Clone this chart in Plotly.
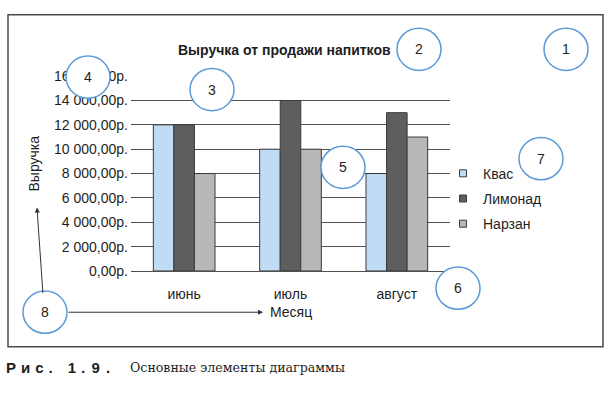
import plotly.graph_objects as go

W, H = 611, 397

months = ["июнь", "июль", "август"]
series_names = ["Квас", "Лимонад", "Нарзан"]
kvas = [12000, 10000, 8000]
limonad = [12000, 14000, 13000]
narzan = [8000, 10000, 11000]
tick_vals = [0, 2000, 4000, 6000, 8000, 10000, 12000, 14000, 16000]
tick_text = ["0,00р.", "2 000,00р.", "4 000,00р.", "6 000,00р.", "8 000,00р.",
             "10 000,00р.", "12 000,00р.", "14 000,00р.", "16 000,00р."]
title_text = "Выручка от продажи напитков"
y_title = "Выручка"
x_title = "Месяц"
# letter-spaced (разрядка) caption label "Рис. 1.9."
caption_bold = "Р\u2004и\u2004с\u2004.\u20031\u2004.\u2004\u200a9\u2004\u200a."
caption_rest = "Основные элементы диаграммы"
callout_labels = ["1", "2", "3", "4", "5", "6", "7", "8"]

colors = ["#bfdcf4", "#5e5e5e", "#b8b8b8"]
FONT = "Liberation Sans, Arial, sans-serif"
TXT = "#1e1e1e"


def px(x):
    return x / W


def py(y):
    return 1 - y / H


fig = go.Figure()
for name, vals, col in zip(series_names, [kvas, limonad, narzan], colors):
    fig.add_trace(go.Bar(x=months, y=vals, name=name, marker_color=col,
                         marker_line=dict(color="#3a3a3a", width=1),
                         showlegend=False))
for i, (name, col) in enumerate(zip(series_names, colors)):
    fig.add_trace(go.Scatter(x=[None], y=[None], mode="markers", name=name,
                             legendgroup=f"g{i}",
                             marker=dict(symbol="square", size=7, color=col,
                                         line=dict(color="#3a3a3a", width=1))))

shapes = [dict(type="rect", xref="paper", yref="paper",
               x0=px(8), x1=px(603), y0=py(7), y1=py(353),
               line=dict(color="#4a4a4a", width=1.5), layer="below")]

callout_pos = [(566, 43), (419, 43), (212, 85), (88, 72), (343, 166),
               (458, 292), (541, 157), (45, 317)]
R = 22
annotations = []
for lab, (cx, cy) in zip(callout_labels, callout_pos):
    shapes.append(dict(type="circle", xref="paper", yref="paper",
                       x0=px(cx - R), x1=px(cx + R), y0=py(cy + R), y1=py(cy - R),
                       fillcolor="white", line=dict(color="#5b9ad8", width=1.5),
                       layer="above"))
    annotations.append(dict(x=px(cx), y=py(cy), xref="paper", yref="paper",
                            xanchor="center", yanchor="middle",
                            text=lab, showarrow=False,
                            font=dict(family=FONT, size=14, color=TXT)))

# arrows from callout 8
annotations.append(dict(x=px(37), y=py(208), xref="paper", yref="paper",
                        ax=43 - 37, ay=295 - 208, text="", showarrow=True,
                        arrowhead=2, arrowsize=1, arrowwidth=1, arrowcolor="#333",
                        standoff=0, startstandoff=0))
annotations.append(dict(x=px(263), y=py(317), xref="paper", yref="paper",
                        ax=67 - 263, ay=0, text="", showarrow=True,
                        arrowhead=2, arrowsize=1, arrowwidth=1, arrowcolor="#333",
                        standoff=0, startstandoff=0))

annotations += [
    dict(x=px(284), y=py(44), xref="paper", yref="paper", text="<b>" + title_text + "</b>",
         xanchor="center", yanchor="middle",
         showarrow=False, font=dict(family=FONT, size=14, color=TXT)),
    dict(x=px(34), y=py(162), xref="paper", yref="paper", text=y_title, textangle=-90,
         xanchor="center", yanchor="middle",
         showarrow=False, font=dict(family=FONT, size=14, color=TXT)),
    dict(x=px(268), y=py(317), xref="paper", yref="paper", text=x_title,
         xanchor="left", yanchor="middle",
         showarrow=False, font=dict(family=FONT, size=14, color=TXT)),
    dict(x=px(4), y=py(375), xref="paper", yref="paper", text="<b>" + caption_bold + "</b>",
         xanchor="left", yanchor="middle", showarrow=False,
         font=dict(family=FONT, size=15, color=TXT)),
    dict(x=px(128), y=py(375), xref="paper", yref="paper", text=caption_rest,
         xanchor="left", yanchor="middle", showarrow=False,
         font=dict(family="DejaVu Serif, serif", size=12.6, color=TXT)),
]

fig.update_layout(
    width=W, height=H, autosize=False,
    margin=dict(l=0, r=0, t=0, b=0),
    paper_bgcolor="white", plot_bgcolor="rgba(0,0,0,0)",
    barmode="group", bargap=0.42, bargroupgap=0,
    font=dict(family=FONT, size=14, color=TXT),
    xaxis=dict(domain=[px(131), px(450)], type="category", showgrid=False,
               showline=True, linecolor="#505050", linewidth=1, ticks="",
               ticklabelstandoff=10, tickfont=dict(size=14, color=TXT), zeroline=False),
    yaxis=dict(domain=[py(274), py(71)], range=[0, 16000], tickvals=tick_vals,
               ticktext=tick_text, showgrid=True, gridcolor="#505050", gridwidth=1,
               showline=False, zeroline=False, ticks="", ticklabelstandoff=2,
               tickfont=dict(size=14, color=TXT)),
    legend=dict(x=px(443), y=py(156), xanchor="left", yanchor="top",
                font=dict(family=FONT, size=14, color=TXT), tracegroupgap=4,
                bgcolor="rgba(0,0,0,0)"),
    shapes=shapes, annotations=annotations,
)

fig.write_html("out.html")
